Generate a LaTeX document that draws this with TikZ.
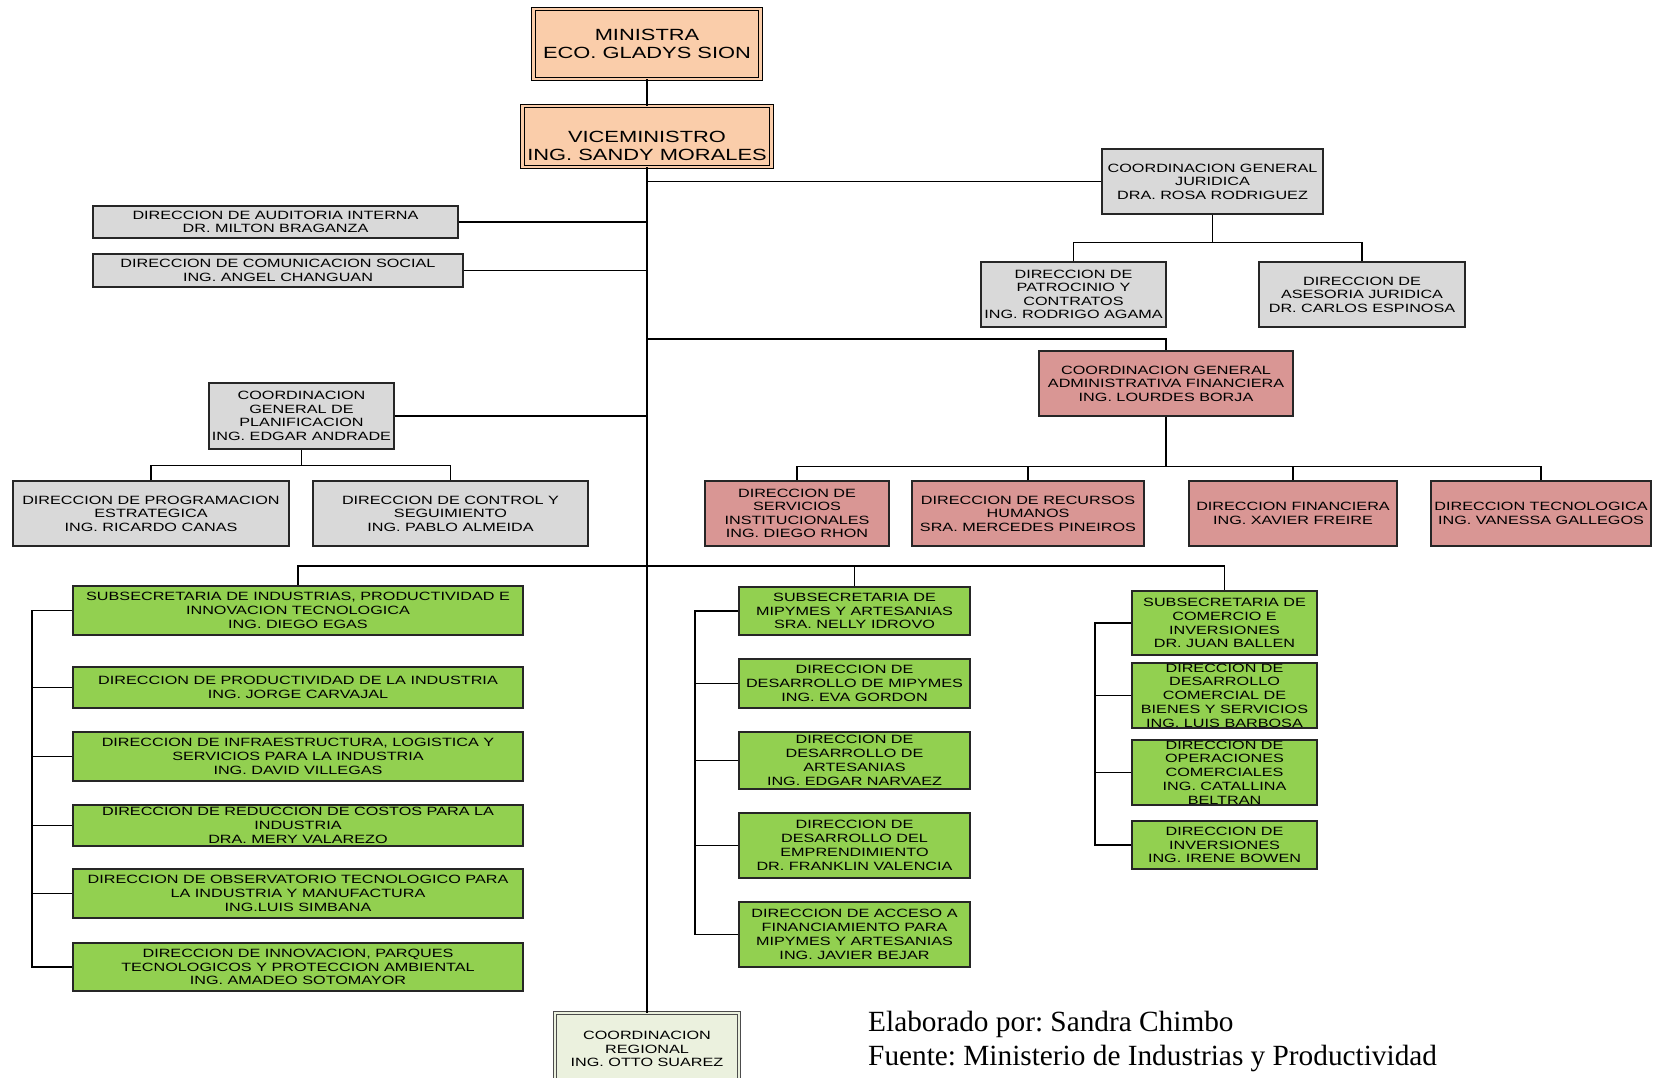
\documentclass[tikz,border=0pt]{standalone}
\usepackage{fontspec}
\setmainfont{Liberation Serif}
\newfontfamily\boxfont[FakeStretch=1.35]{Liberation Sans}

\definecolor{cpeach}{RGB}{250,205,170}
\definecolor{cgray}{RGB}{217,217,217}
\definecolor{cred}{RGB}{217,150,148}
\definecolor{cgreen}{RGB}{146,208,80}
\definecolor{cregion}{RGB}{235,241,222}

\tikzset{
  orgbox/.style={draw=black!85, line width=1.4pt, align=center, inner sep=0pt,
    text=black, font=\boxfont\fontsize{12}{13.5}\selectfont},
  greybox/.style={orgbox, fill=cgray},
  redbox/.style={orgbox, fill=cred},
  greenbox/.style={orgbox, fill=cgreen, font=\boxfont\fontsize{12}{13.8}\selectfont},
  topfont/.style={font=\boxfont\fontsize{16.2}{18.5}\selectfont},
  topbox/.style={orgbox, topfont, fill=cpeach, draw=black, line width=0.9pt,
    double=cpeach, double distance=2.6pt},
  regionbox/.style={orgbox, fill=cregion, draw=black!70, line width=0.8pt,
    double=cregion, double distance=2.4pt},
  conn/.style={draw=black, line width=1.5pt},
}

\begin{document}
\frenchspacing
\begin{tikzpicture}[x=1pt,y=-1pt]
\useasboundingbox (0,0) rectangle (1653,1077);

% --- top of the hierarchy ---
\node[topbox, minimum width=227pt, minimum height=70pt] (min) at (647,44)
  {MINISTRA\\ECO. GLADYS SION};
\node[topbox, minimum width=249pt, minimum height=61pt] (vice) at (647,136.5) {};
\node[align=center, inner sep=0pt, topfont] (vicetext) at (647,146)
  {VICEMINISTRO\\ING. SANDY MORALES};

% --- advisory and support units ---
\node[greybox, minimum width=221pt, minimum height=65pt] (jur) at (1212.5,181.5)
  {COORDINACION GENERAL\\JURIDICA\\DRA. ROSA RODRIGUEZ};
\node[greybox, minimum width=185pt, minimum height=65pt] (patro) at (1073.5,294.5)
  {DIRECCION DE\\PATROCINIO Y\\CONTRATOS\\ING. RODRIGO AGAMA};
\node[greybox, minimum width=206pt, minimum height=65pt] (aseso) at (1362,294.5)
  {DIRECCION DE\\ASESORIA JURIDICA\\DR. CARLOS ESPINOSA};
\node[greybox, minimum width=365pt, minimum height=32pt] (audit) at (275.5,222)
  {DIRECCION DE AUDITORIA INTERNA\\DR. MILTON BRAGANZA};
\node[greybox, minimum width=370pt, minimum height=33pt] (comun) at (278,270.5)
  {DIRECCION DE COMUNICACION SOCIAL\\ING. ANGEL CHANGUAN};

% --- administrative and financial coordination ---
\node[redbox, minimum width=254pt, minimum height=65pt] (admin) at (1166,383.5)
  {COORDINACION GENERAL\\ADMINISTRATIVA FINANCIERA\\ING. LOURDES BORJA};
\node[redbox, minimum width=184pt, minimum height=65pt] (serv) at (797,513.5)
  {DIRECCION DE\\SERVICIOS\\INSTITUCIONALES\\ING. DIEGO RHON};
\node[redbox, minimum width=232pt, minimum height=65pt] (rrhh) at (1028,513.5)
  {DIRECCION DE RECURSOS\\HUMANOS\\SRA. MERCEDES PINEIROS};
\node[redbox, minimum width=208pt, minimum height=65pt] (fin) at (1293,513.5)
  {DIRECCION FINANCIERA\\ING. XAVIER FREIRE};
\node[redbox, minimum width=220pt, minimum height=65pt] (tec) at (1541,513.5)
  {DIRECCION TECNOLOGICA\\ING. VANESSA GALLEGOS};

% --- planning coordination ---
\node[greybox, minimum width=185pt, minimum height=66pt] (planif) at (301.5,416)
  {COORDINACION\\GENERAL DE\\PLANIFICACION\\ING. EDGAR ANDRADE};
\node[greybox, minimum width=276pt, minimum height=65pt] (prog) at (151,513.5)
  {DIRECCION DE PROGRAMACION\\ESTRATEGICA\\ING. RICARDO CANAS};
\node[greybox, minimum width=275pt, minimum height=65pt] (ctrl) at (450.5,513.5)
  {DIRECCION DE CONTROL Y\\SEGUIMIENTO\\ING. PABLO ALMEIDA};

% --- undersecretariat of industries ---
\node[greenbox, minimum width=450pt, minimum height=49pt] (subind) at (298,610.5)
  {SUBSECRETARIA DE INDUSTRIAS, PRODUCTIVIDAD E\\INNOVACION TECNOLOGICA\\ING. DIEGO EGAS};
\node[greenbox, minimum width=450pt, minimum height=41pt] (prod) at (298,687.5)
  {DIRECCION DE PRODUCTIVIDAD DE LA INDUSTRIA\\ING. JORGE CARVAJAL};
\node[greenbox, minimum width=450pt, minimum height=49pt] (infra) at (298,756.5)
  {DIRECCION DE INFRAESTRUCTURA, LOGISTICA Y\\SERVICIOS PARA LA INDUSTRIA\\ING. DAVID VILLEGAS};
\node[greenbox, minimum width=450pt, minimum height=41pt] (reduc) at (298,825.5)
  {DIRECCION DE REDUCCION DE COSTOS PARA LA\\INDUSTRIA\\DRA. MERY VALAREZO};
\node[greenbox, minimum width=450pt, minimum height=49pt] (obs) at (298,893.5)
  {DIRECCION DE OBSERVATORIO TECNOLOGICO PARA\\LA INDUSTRIA Y MANUFACTURA\\ING.LUIS SIMBANA};
\node[greenbox, minimum width=450pt, minimum height=48pt] (innov) at (298,967)
  {DIRECCION DE INNOVACION, PARQUES\\TECNOLOGICOS Y PROTECCION AMBIENTAL\\ING. AMADEO SOTOMAYOR};

% --- undersecretariat of MIPYMES ---
\node[greenbox, minimum width=231pt, minimum height=48pt] (submip) at (854.5,611)
  {SUBSECRETARIA DE\\MIPYMES Y ARTESANIAS\\SRA. NELLY IDROVO};
\node[greenbox, minimum width=231pt, minimum height=49pt] (desmip) at (854.5,683.5)
  {DIRECCION DE\\DESARROLLO DE MIPYMES\\ING. EVA GORDON};
\node[greenbox, minimum width=231pt, minimum height=57pt] (artes) at (854.5,760.5)
  {DIRECCION DE\\DESARROLLO DE\\ARTESANIAS\\ING. EDGAR NARVAEZ};
\node[greenbox, minimum width=231pt, minimum height=65pt] (empr) at (854.5,845.5)
  {DIRECCION DE\\DESARROLLO DEL\\EMPRENDIMIENTO\\DR. FRANKLIN VALENCIA};
\node[greenbox, minimum width=231pt, minimum height=65pt] (acceso) at (854.5,934.5)
  {DIRECCION DE ACCESO A\\FINANCIAMIENTO PARA\\MIPYMES Y ARTESANIAS\\ING. JAVIER BEJAR};

% --- undersecretariat of trade ---
\node[greenbox, minimum width=185pt, minimum height=64pt] (subcom) at (1224.5,623)
  {SUBSECRETARIA DE\\COMERCIO E\\INVERSIONES\\DR. JUAN BALLEN};
\node[greenbox, minimum width=185pt, minimum height=65pt] (descom) at (1224.5,695.5)
  {DIRECCION DE\\DESARROLLO\\COMERCIAL DE\\BIENES Y SERVICIOS\\ING. LUIS BARBOSA};
\node[greenbox, minimum width=185pt, minimum height=65pt] (oper) at (1224.5,772.5)
  {DIRECCION DE\\OPERACIONES\\COMERCIALES\\ING. CATALLINA\\BELTRAN};
\node[greenbox, minimum width=185pt, minimum height=48pt] (inver) at (1224.5,845)
  {DIRECCION DE\\INVERSIONES\\ING. IRENE BOWEN};

% --- regional coordination ---
\node[regionbox, minimum width=184pt, minimum height=72pt] (regional) at (647,1049)
  {COORDINACION\\REGIONAL\\ING. OTTO SUAREZ};

% --- credits ---
\node[anchor=west, align=left, inner sep=0pt, font=\fontsize{29.3}{34}\selectfont]
  (credit) at (868,1041)
  {Elaborado por: Sandra Chimbo\\Fuente: Ministerio de Industrias y Productividad};

% --- connectors ---
\draw[conn] (min.south) -- (vice.north);
\draw[conn] (vice.south) -- (regional.north);

\draw[conn] (jur.west) -- (jur.west -| vice.south);
\draw[conn] (audit.east) -- (audit.east -| vice.south);
\draw[conn] (comun.east) -- (comun.east -| vice.south);
\draw[conn] (planif.east) -- (planif.east -| vice.south);

\draw[conn] (jur.south) -- ++(0,28) coordinate (jb);
\draw[conn] (patro.north) |- (jb) -| (aseso.north);

\coordinate (at) at (647,339);
\draw[conn] (at) -| (admin.north);
\draw[conn] (admin.south) -- ++(0,50) coordinate (ab);
\draw[conn] (serv.north) |- (ab) -| (tec.north);
\draw[conn] (rrhh.north) -- (rrhh.north |- ab);
\draw[conn] (fin.north) -- (fin.north |- ab);

\draw[conn] (planif.south) -- ++(0,16) coordinate (pb);
\draw[conn] (prog.north) |- (pb) -| (ctrl.north);

\coordinate (sb) at (647,566);
\draw[conn] (subind.north) |- (sb) -| (subcom.north);
\draw[conn] (submip.north) -- (submip.north |- sb);

% side brackets of the three undersecretariats
\coordinate (lbx) at (32,600);
\draw[conn] (subind.west) -- (subind.west -| lbx) -- (innov.west -| lbx) -- (innov.west);
\foreach \n in {prod,infra,reduc,obs} \draw[conn] (\n.west) -- (\n.west -| lbx);

\coordinate (mbx) at (695,600);
\draw[conn] (submip.west) -- (submip.west -| mbx) -- (acceso.west -| mbx) -- (acceso.west);
\foreach \n in {desmip,artes,empr} \draw[conn] (\n.west) -- (\n.west -| mbx);

\coordinate (rbx) at (1095,600);
\draw[conn] (subcom.west) -- (subcom.west -| rbx) -- (inver.west -| rbx) -- (inver.west);
\foreach \n in {descom,oper} \draw[conn] (\n.west) -- (\n.west -| rbx);

\end{tikzpicture}
\end{document}
